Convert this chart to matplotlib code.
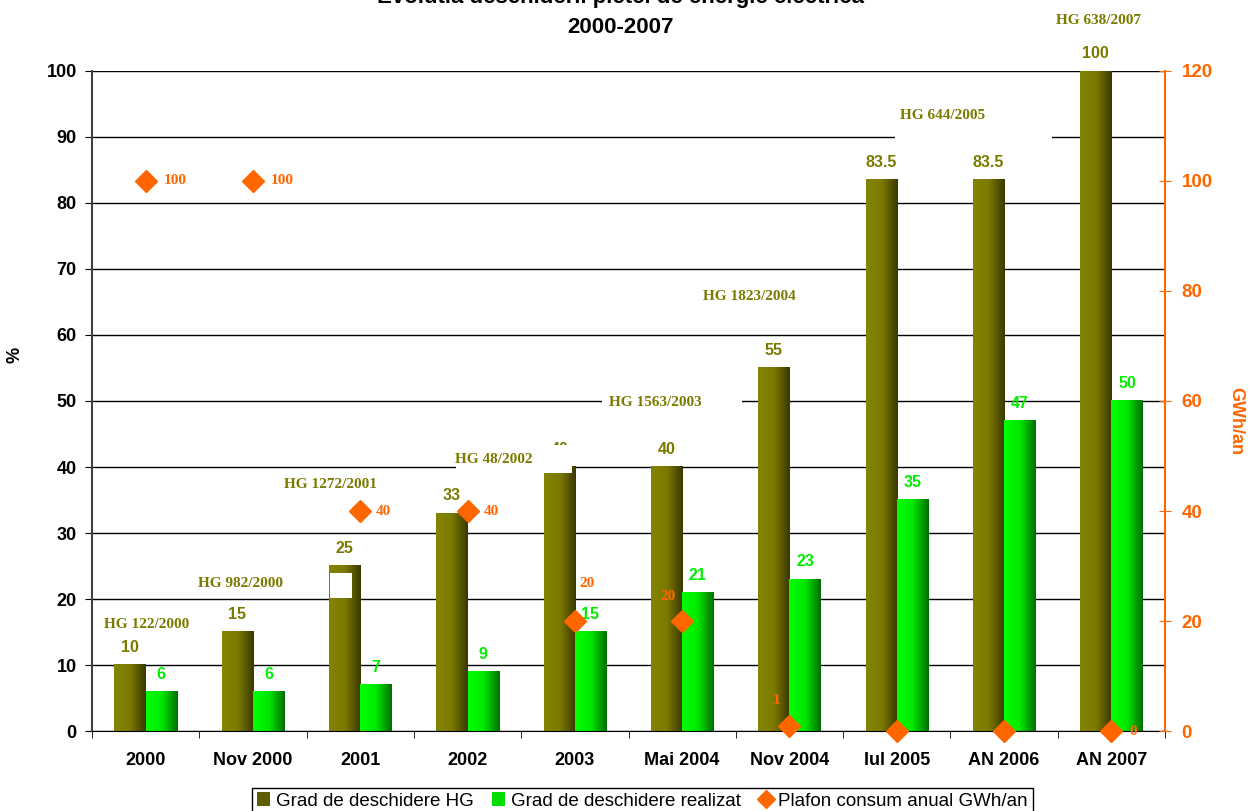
import matplotlib
matplotlib.use("Agg")
import matplotlib.pyplot as plt
import numpy as np
from matplotlib.colors import LinearSegmentedColormap
from matplotlib.patches import Patch, Rectangle
from matplotlib.lines import Line2D

categories = ["2000", "Nov 2000", "2001", "2002", "2003", "Mai 2004",
              "Nov 2004", "Iul 2005", "AN 2006", "AN 2007"]
grad_hg = [10, 15, 25, 33, 40, 40, 55, 83.5, 83.5, 100]
grad_realizat = [6, 6, 7, 9, 15, 21, 23, 35, 47, 50]
plafon = [100, 100, 40, 40, 20, 20, 1, 0, 0, 0]
plafon_labels = ["100", "100", "40", "40", "20", "20", "1", "", "", "0"]
hg_notes = ["HG 122/2000", "HG 982/2000", "HG 1272/2001", "HG 48/2002",
            "HG 1563/2003", "HG 1823/2004", "HG 644/2005", "HG 638/2007"]
hg_note_x = [0.01, 0.88, 1.72, 3.24, 4.75, 5.63, 7.43, 8.88]
hg_note_y = [16.2, 22.3, 37.4, 41.2, 49.8, 65.9, 93.2, 107.7]

OLIVE = "#7a7a00"
GREEN_TXT = "#00ee00"
ORANGE = "#ff6600"
SANS = "Liberation Sans"
SERIF = "Liberation Serif"

fig = plt.figure(figsize=(12.51, 8.11), dpi=100)
ax = fig.add_axes([0.0735, 0.0986, 0.8578, 0.8139])
ax2 = ax.twinx()

cm_hg = LinearSegmentedColormap.from_list("hg", ["#848400", "#7c7a00", "#3a3800"])
cm_re = LinearSegmentedColormap.from_list("re", ["#00ff00", "#00e800", "#006e00"])
grad = np.linspace(0, 1, 64).reshape(1, -1)

w = 0.29
x = np.arange(len(categories))
for i in range(len(categories)):
    ax.imshow(grad, extent=[x[i] - w, x[i], 0, grad_hg[i]], aspect="auto",
              cmap=cm_hg, zorder=2, interpolation="bilinear")
    ax.imshow(grad, extent=[x[i], x[i] + w, 0, grad_realizat[i]], aspect="auto",
              cmap=cm_re, zorder=2, interpolation="bilinear")
    ax.annotate(f"{grad_hg[i]:g}", (x[i] - w / 2, grad_hg[i]), xytext=(0, 12.5),
                textcoords="offset points", ha="center", va="center",
                fontsize=11.5, fontweight="bold", color=OLIVE, family=SANS, zorder=4)
    ax.annotate(f"{grad_realizat[i]:g}", (x[i] + w / 2, grad_realizat[i]), xytext=(0, 12.5),
                textcoords="offset points", ha="center", va="center",
                fontsize=11.5, fontweight="bold", color=GREEN_TXT, family=SANS, zorder=4)

# white artefact patches from the original chart
ax.add_patch(Rectangle((1.718, 20.15), 0.205, 3.75, facecolor="white", edgecolor="none", zorder=3))
ax.add_patch(Rectangle((3.25, 39.1), 0.72, 4.3, facecolor="white", edgecolor="none", zorder=5))
ax.add_patch(Rectangle((6.98, 89.5), 1.47, 1.0, facecolor="white", edgecolor="none", zorder=5))
ax.add_patch(Rectangle((4.25, 49.5), 1.31, 1.0, facecolor="white", edgecolor="none", zorder=5))
ax.add_patch(Rectangle((2.89, 39.5), 0.4, 1.0, facecolor="white", edgecolor="none", zorder=5))

for t, xx, yy in zip(hg_notes, hg_note_x, hg_note_y):
    ax.text(xx, yy, t, ha="center", va="center", fontsize=11, fontweight="bold",
            color=OLIVE, family=SERIF, zorder=6, clip_on=False)

ax.set_xlim(-0.5, len(categories) - 0.5)
ax.set_ylim(0, 100)
ax.set_yticks(range(0, 101, 10))
ax.yaxis.grid(True, color="black", linewidth=1)
ax.set_axisbelow(True)
ax.set_xticks(x)
ax.set_xticklabels(categories, fontsize=13, fontweight="bold", family=SANS)
ax.set_xticks(np.arange(-0.5, len(categories), 1), minor=True)
ax.tick_params(axis="x", which="major", length=0, pad=15)
ax.tick_params(axis="x", which="minor", length=5, direction="out")
ax.tick_params(axis="y", length=5, direction="out", labelsize=13, pad=6)
for lab in ax.get_yticklabels():
    lab.set_fontweight("bold")
    lab.set_family(SANS)
ax.set_ylabel("%", fontsize=13, fontweight="bold", family=SANS, va="center")
ax.yaxis.set_label_coords(-0.0718, 0.57)
for s in ["top", "right"]:
    ax.spines[s].set_visible(False)
ax.spines["left"].set_color("#404040")
ax.spines["left"].set_linewidth(1.5)
ax.spines["bottom"].set_color("black")

# right axis
ax2.plot(x, plafon, linestyle="none", marker="D", markersize=11, color=ORANGE,
         markeredgecolor=ORANGE, zorder=7, clip_on=False)
offs = [(21, 0), (21, 0), (17, 0), (17, 0), (9, 27), (-10, 18), (-9, 18), (0, 0), (0, 0), (16, 0)]
for i, lab in enumerate(plafon_labels):
    if lab:
        ax2.annotate(lab, (x[i], plafon[i]), xytext=offs[i], textcoords="offset points",
                     ha="center", va="center", fontsize=11, fontweight="bold",
                     color=ORANGE, family=SERIF, zorder=8)
ax2.set_ylim(0, 120)
ax2.set_yticks(range(0, 121, 20))
ax2.tick_params(axis="y", colors=ORANGE, labelsize=13.5, direction="inout", length=8, pad=8)
for lab in ax2.get_yticklabels():
    lab.set_fontweight("bold")
    lab.set_family(SANS)
ax2.set_ylabel("GWh/an", fontsize=13, fontweight="bold", color=ORANGE, family=SANS,
               rotation=-90, va="center")
ax2.yaxis.set_label_coords(1.066, 0.47)
for s in ["top", "left", "bottom"]:
    ax2.spines[s].set_visible(False)
ax2.spines["right"].set_color(ORANGE)
ax2.spines["right"].set_linewidth(1.5)

fig.text(0.496, 1.003, "Evolutia deschiderii pietei de energie electrica", ha="center",
         va="center", fontsize=16, fontweight="bold", family=SANS)
fig.text(0.496, 0.9667, "2000-2007", ha="center", va="center", fontsize=16,
         fontweight="bold", family=SANS)

handles = [Patch(facecolor="#5e5c00", edgecolor="none"),
           Patch(facecolor="#00dd00", edgecolor="none"),
           Line2D([], [], linestyle="none", marker="D", color=ORANGE, markersize=9)]
leg = fig.legend(handles, ["Grad de deschidere HG", "Grad de deschidere realizat",
                           "Plafon consum anual GWh/an"],
                 loc="center", bbox_to_anchor=(0.5136, 0.0123), ncol=3, frameon=True,
                 fancybox=False, edgecolor="black", framealpha=1,
                 prop={"family": SANS, "size": 13.5}, handlelength=0.7, handleheight=0.7,
                 handletextpad=0.3, columnspacing=1.0, borderpad=0.25, borderaxespad=0)
leg.get_frame().set_linewidth(1)

fig.savefig("out.png", dpi=100)
